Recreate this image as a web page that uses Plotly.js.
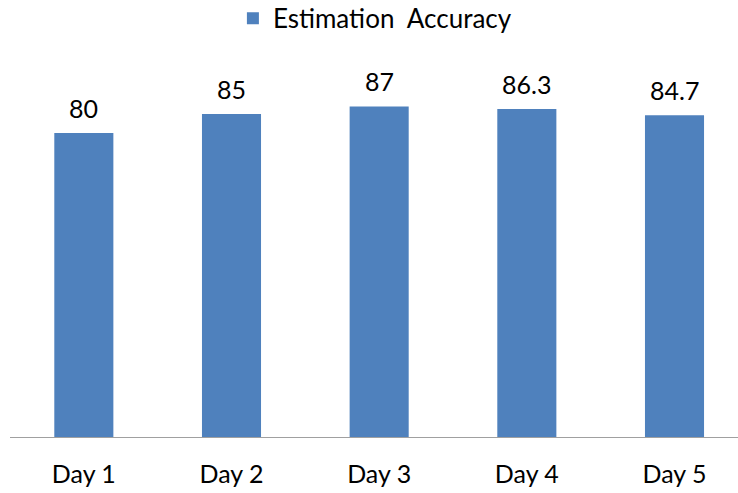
<!DOCTYPE html>
<html>
<head>
<meta charset="utf-8">
<script src="https://cdn.plot.ly/plotly-3.0.1.min.js"></script>
<style>html,body{margin:0;padding:0;background:#fff;}#chart{width:738px;height:493px;}</style>
</head>
<body>
<div id="chart"></div>
<script>
const categories = ["Day 1", "Day 2", "Day 3", "Day 4", "Day 5"];
const accuracy = [80, 85, 87, 86.3, 84.7];
const seriesName = "Estimation  Accuracy";

const trace = {
  type: "bar",
  x: categories,
  y: accuracy,
  name: seriesName,
  marker: {color: "#4F81BD"},
  hoverinfo: "none"
};

const labels = categories.map((c, i) => ({
  x: c, y: accuracy[i], xref: "x", yref: "y",
  text: String(accuracy[i]), showarrow: false,
  yanchor: "bottom", yshift: 8,
  font: {family: "Lato, sans-serif", size: 25, color: "#000"}
}));

const layout = {
  width: 738, height: 493,
  margin: {l: 9.6, r: 0, t: 57, b: 56, pad: 0, autoexpand: false},
  paper_bgcolor: "#fff", plot_bgcolor: "#fff",
  font: {family: "Lato, sans-serif", color: "#000"},
  bargap: 0.6,
  showlegend: true,
  legend: {orientation: "h", x: 0.508, xref: "container", xanchor: "center",
           y: 0.963, yref: "container", yanchor: "middle",
           font: {size: 26, color: "#000"}, itemwidth: 30},
  annotations: labels,
  xaxis: {range: [-0.5, 4.43], showline: true, linecolor: "#a0a0a0", linewidth: 1.3,
          ticks: "", showgrid: false, zeroline: false, tickfont: {size: 25},
          ticklabelstandoff: 15, fixedrange: true},
  yaxis: {range: [0, 100], visible: false, showgrid: false, zeroline: false, fixedrange: true}
};

Plotly.newPlot("chart", [trace], layout, {displayModeBar: false, staticPlot: true});
</script>
</body>
</html>
